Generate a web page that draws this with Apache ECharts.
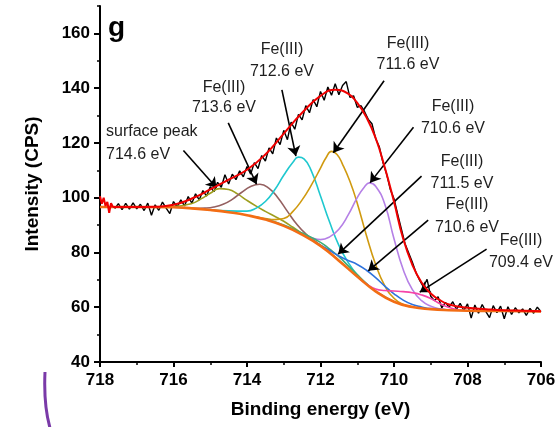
<!DOCTYPE html>
<html><head><meta charset="utf-8">
<script src="https://cdn.jsdelivr.net/npm/echarts@6/dist/echarts.min.js"></script>
<style>html,body{margin:0;padding:0;background:#fff;}#c{width:559px;height:427px;}</style>
</head><body><div id="c"></div>
<script>
// ---- raw spectrum (0.1 eV steps from 717.6 down to 706.0) ----
const rawStart = 717.6;
const rawStep = 0.1;
const rawCounts = [
  96.0, 97.8, 95.6, 97.9, 95.8, 98.1, 95.9, 97.6, 95.3, 98.0,
  93.6, 97.4, 95.4, 98.4, 96.2, 94.2, 98.6, 96.6, 99.2, 97.0,
  100.4, 98.0, 101.4, 99.2, 102.6, 100.6, 104.0, 102.2, 105.6, 103.8,
  108.4, 105.0, 108.6, 106.6, 109.8, 107.6, 111.4, 108.6, 112.8, 110.6,
  115.4, 113.4, 118.2, 116.0, 121.8, 119.4, 124.6, 121.2, 127.6, 125.0,
  130.4, 128.4, 133.6, 131.0, 135.8, 133.2, 138.8, 135.6, 140.4, 137.4,
  141.6, 137.6, 141.0, 142.4, 136.6, 137.2, 133.0, 133.6, 131.4, 128.6,
  127.0, 121.6, 118.6, 112.8, 108.6, 103.0, 99.6, 94.0, 88.6, 83.2,
  79.8, 76.4, 72.6, 69.8, 67.4, 70.2, 64.0, 62.4, 63.8, 59.8,
  61.8, 60.0, 62.0, 59.2, 61.4, 58.8, 61.2, 56.0, 60.8, 57.8,
  61.0, 58.4, 56.2, 60.6, 58.0, 60.4, 55.8, 60.2, 57.4, 59.8,
  58.0, 59.4, 57.0, 59.6, 57.8, 60.0, 58.4
];

// ---- fitted envelope ----
const envStartE = [718.0, 717.95, 717.9, 717.85, 717.8, 717.75, 717.7, 717.65];
const envStartV = [100.5, 97.8, 100.0, 97.0, 98.5, 94.5, 98.0, 96.6];
const envE = [717.65, 717.0, 716.5, 716.0, 715.5, 715.0, 714.5, 714.0, 713.5, 713.0, 712.5, 712.0, 711.6, 711.25, 711.0, 710.75, 710.5, 710.25, 710.0, 709.75, 709.5, 709.25, 709.0, 708.75, 708.5, 708.0, 707.5, 707.0, 706.5, 706.0];
const envV = [96.6, 96.6, 96.7, 97.4, 99.7, 103.0, 106.6, 110.2, 115.8, 123.4, 131.0, 137.2, 139.4, 138.0, 134.6, 129.4, 121.8, 111.0, 98.5, 85.0, 75.5, 69.0, 65.0, 62.6, 61.0, 59.8, 59.3, 58.9, 58.7, 58.5];

// ---- background ----
const bgE = [718, 717, 716, 715.5, 715, 714.5, 714, 713.5, 713, 712.5, 712, 711.5, 711, 710.5, 710, 709.5, 709, 708.5, 708, 707, 706];
const bgV = [96.6, 96.6, 96.5, 96.1, 95.5, 94.7, 93.6, 92.0, 89.7, 86.5, 82.4, 77.0, 71.2, 65.8, 62.0, 60.1, 59.3, 58.9, 58.7, 58.6, 58.5];

// ---- components ----
const surfE = [716.5, 716, 715.5, 715.25, 715, 714.75, 714.5, 714.25, 714, 713.75, 713.5, 713.25, 713, 712.75, 712.5, 712, 711.5, 711];
const surfV = [96.7, 96.8, 97.9, 99.6, 101.6, 103.3, 103.0, 101.3, 99.0, 96.9, 95.0, 93.2, 91.4, 89.2, 86.9, 82.6, 77.1, 71.2];

const p7136E = [716, 715.4, 715.15, 714.9, 714.65, 714.4, 714.15, 713.9, 713.65, 713.4, 713.15, 712.9, 712.65, 712.4, 712.15, 711.9];
const p7136V = [96.5, 96.1, 96.2, 96.6, 97.6, 99.4, 101.9, 104.1, 104.9, 103.4, 99.8, 95.0, 90.4, 86.8, 84.1, 81.5];

const p7126E = [715.0, 714.5, 714.0, 713.75, 713.5, 713.25, 713.0, 712.75, 712.6, 712.45, 712.25, 712.0, 711.75, 711.5, 711.25, 711.0, 710.75, 710.5];
const p7126V = [95.6, 95.2, 95.1, 96.2, 98.6, 102.8, 108.2, 112.9, 114.8, 114.2, 109.8, 100.6, 91.0, 82.6, 76.4, 71.8, 68.6, 65.8];

const p7116E = [713.75, 713.5, 713.25, 713.0, 712.75, 712.5, 712.25, 712.0, 711.85, 711.7, 711.55, 711.4, 711.2, 711.0, 710.75, 710.5, 710.25, 710.0, 709.75, 709.5];
const p7116V = [93.0, 92.4, 92.0, 92.4, 95.0, 99.2, 104.6, 110.8, 114.6, 116.9, 115.8, 112.2, 106.0, 98.0, 86.2, 75.6, 67.8, 63.3, 61.0, 60.1];

const p7106E = [712.75, 712.5, 712.25, 712.0, 711.75, 711.5, 711.25, 711.0, 710.8, 710.67, 710.5, 710.25, 710.0, 709.75, 709.5, 709.25, 709.0, 708.75, 708.5];
const p7106V = [88.2, 86.7, 85.4, 84.7, 85.7, 88.5, 93.6, 100.0, 104.0, 105.4, 104.2, 97.6, 85.0, 73.8, 66.4, 62.4, 60.4, 59.4, 59.0];

const p7115E = [713.5, 713.0, 712.5, 712.0, 711.75, 711.5, 711.25, 711.0, 710.75, 710.5, 710.0];
const p7115V = [92.2, 90.0, 87.1, 83.7, 81.2, 78.5, 75.2, 71.9, 68.6, 65.9, 62.0];

const p7106bE = [712.5, 712.25, 712.0, 711.75, 711.5, 711.25, 711.0, 710.75, 710.5, 710.25, 710.0, 709.75, 709.5, 709.25, 709.0, 708.5];
const p7106bV = [86.6, 84.7, 82.7, 80.7, 78.7, 77.1, 75.6, 73.5, 70.8, 67.7, 64.9, 62.6, 61.0, 60.1, 59.5, 59.0];

const p7094E = [711.0, 710.75, 710.5, 710.25, 710.0, 709.75, 709.5, 709.25, 709.0, 708.75, 708.5, 708.25, 708.0];
const p7094V = [71.2, 68.5, 66.7, 66.1, 65.9, 65.7, 65.3, 64.5, 63.2, 61.3, 59.9, 59.1, 58.8];

// ---- axis ticks ----
const xTicks = [718, 716, 714, 712, 710, 708, 706];
const yMajorTicks = [40, 60, 80, 100, 120, 140, 160];
const yMinorTicks = [50, 70, 90, 110, 130, 150, 170];

// ---- annotations ----
const labels = [
  {lines: ['surface peak', '714.6 eV']},
  {lines: ['Fe(III)', '713.6 eV']},
  {lines: ['Fe(III)', '712.6 eV']},
  {lines: ['Fe(III)', '711.6 eV']},
  {lines: ['Fe(III)', '710.6 eV']},
  {lines: ['Fe(III)', '711.5 eV']},
  {lines: ['Fe(III)', '710.6 eV']},
  {lines: ['Fe(III)', '709.4 eV']}
];
const labelPos = [
  {x: 106, y: [132, 155], align: 'left'},
  {x: 224, y: [88, 108], align: 'center'},
  {x: 282, y: [50, 72], align: 'center'},
  {x: 408, y: [44, 65], align: 'center'},
  {x: 453, y: [107, 129], align: 'center'},
  {x: 462, y: [162, 184], align: 'center'},
  {x: 467, y: [205, 228], align: 'center'},
  {x: 521, y: [241, 263], align: 'center'}
];
const arrows = [
  [[715.73, 117.2], [714.83, 103.6]],
  [[714.51, 127.3], [713.74, 104.9]],
  [[713.05, 139.4], [712.67, 115.2]],
  [[710.27, 142.7], [711.65, 116.4]],
  [[709.47, 125.7], [710.65, 105.5]],
  [[709.25, 107.9], [711.52, 79.4]],
  [[709.07, 91.8], [710.70, 73.3]],
  [[707.48, 81.2], [709.30, 65.5]]
];

function pairs(E, V) { return E.map((e, i) => [e, V[i]]); }
const rawData = rawCounts.map((v, i) => [+(rawStart - i * rawStep).toFixed(2), v]);

const FONT = '"Liberation Sans", Arial, Helvetica, sans-serif';
const chart = echarts.init(document.getElementById('c'), null, {renderer: 'canvas'});

function comp(name, E, V, color) {
  return {name, type: 'line', data: pairs(E, V), smooth: 0.5, showSymbol: false,
    lineStyle: {color, width: 1.6}, z: 3, silent: true};
}

const graphics = [];
labels.forEach((l, i) => {
  const p = labelPos[i];
  l.lines.forEach((t, j) => {
    graphics.push({type: 'text', z: 100, style: {text: t, x: p.x, y: p.y[j], align: p.align, verticalAlign: 'middle',
      font: '16px ' + FONT, fill: '#1e1e1e'}});
  });
});
graphics.push({type: 'text', z: 100, style: {text: 'g', x: 108, y: 28, verticalAlign: 'middle', font: 'bold 28px ' + FONT, fill: '#000'}});
graphics.push({type: 'bezierCurve', z: 100, shape: {x1: 45, y1: 372, cpx1: 43.5, cpy1: 405, x2: 50, y2: 428},
  style: {stroke: '#7a3aa8', lineWidth: 3, fill: null}});

const option = {
  animation: false,
  backgroundColor: '#fff',
  grid: {left: 100, right: 18, top: 6, bottom: 65, containLabel: false},
  xAxis: {
    type: 'value', min: 706, max: 718, interval: 2, inverse: true,
    name: 'Binding energy (eV)', nameLocation: 'middle', nameGap: 38,
    nameTextStyle: {fontFamily: FONT, fontWeight: 'bold', fontSize: 19, color: '#000'},
    axisLine: {show: true, onZero: false, lineStyle: {color: '#000', width: 2}},
    axisTick: {show: true, length: 5, lineStyle: {color: '#000', width: 2}},
    minorTick: {show: true, splitNumber: 2, length: 3, lineStyle: {color: '#000', width: 1.5}},
    axisLabel: {customValues: xTicks, margin: 10, fontFamily: FONT, fontWeight: 'bold', fontSize: 17, color: '#000'},
    splitLine: {show: false}
  },
  yAxis: [
    {
      type: 'value', min: 40, max: 170,
      name: 'Intensity (CPS)', nameLocation: 'middle', nameGap: 58,
      nameTextStyle: {fontFamily: FONT, fontWeight: 'bold', fontSize: 19, color: '#000'},
      axisLine: {show: true, onZero: false, lineStyle: {color: '#000', width: 2}},
      axisTick: {show: true, length: 6, customValues: yMajorTicks, lineStyle: {color: '#000', width: 2}},
      axisLabel: {customValues: yMajorTicks, margin: 10, fontFamily: FONT, fontWeight: 'bold', fontSize: 17, color: '#000'},
      splitLine: {show: false}
    },
    {
      type: 'value', min: 40, max: 170, position: 'left',
      axisLine: {show: false, onZero: false},
      axisTick: {show: true, length: 3, customValues: yMinorTicks, lineStyle: {color: '#000', width: 1.5}},
      axisLabel: {show: false},
      splitLine: {show: false}
    }
  ],
  series: [
    {name: 'data', type: 'line', data: rawData, showSymbol: false, lineStyle: {color: '#000', width: 1.4}, z: 2, silent: true},
    comp('714.6', surfE, surfV, '#9e9e1e'),
    comp('713.6', p7136E, p7136V, '#946060'),
    comp('712.6', p7126E, p7126V, '#1fc8cf'),
    comp('711.6', p7116E, p7116V, '#d09a10'),
    comp('710.6', p7106E, p7106V, '#b580e6'),
    comp('711.5', p7115E, p7115V, '#3dae78'),
    comp('710.6b', p7106bE, p7106bV, '#2e72dc'),
    comp('709.4', p7094E, p7094V, '#f545a8'),
    {name: 'bg', type: 'line', data: pairs(bgE, bgV), smooth: 0.5, showSymbol: false,
      lineStyle: {color: '#f36d14', width: 2.6}, z: 4, silent: true,
      markLine: {silent: true, symbol: ['none', 'arrow'], symbolSize: 10, label: {show: false},
        lineStyle: {color: '#000', width: 1.6, type: 'solid'}, emphasis: {disabled: true},
        data: arrows.map(a => [{coord: a[0]}, {coord: a[1]}])}},
    {name: 'fit', type: 'line', data: pairs(envE, envV), smooth: 0.5, showSymbol: false,
      lineStyle: {color: '#f00000', width: 2}, z: 5, silent: true},
    {name: 'fitStart', type: 'line', data: pairs(envStartE, envStartV), showSymbol: false,
      lineStyle: {color: '#f00000', width: 2}, z: 5, silent: true}
  ],
  graphic: graphics
};
chart.setOption(option);
</script></body></html>
